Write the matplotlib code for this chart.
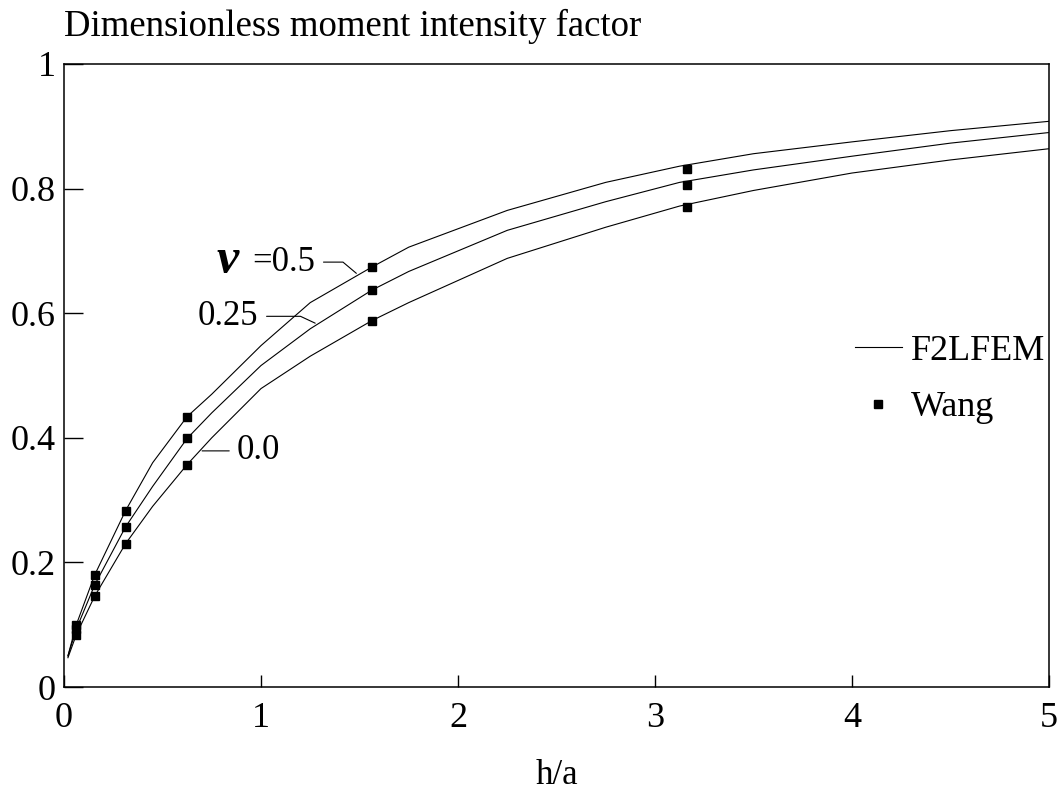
import matplotlib
matplotlib.use("Agg")
import matplotlib.pyplot as plt
from matplotlib.lines import Line2D

plt.rcParams['font.family'] = ['Liberation Serif', 'DejaVu Serif']

# F2LFEM curves
x_curve = [0.02, 0.0625, 0.156, 0.3125, 0.45, 0.625, 0.75, 1.0, 1.25, 1.5625,
           1.75, 2.25, 2.75, 3.125, 3.5, 4.0, 4.5, 5.0]
fem_05 = [0.05, 0.10, 0.18, 0.283, 0.36, 0.434, 0.47, 0.548, 0.617, 0.674,
          0.706, 0.765, 0.810, 0.836, 0.856, 0.875, 0.893, 0.908]
fem_025 = [0.05, 0.093, 0.164, 0.257, 0.322, 0.399, 0.44, 0.516, 0.575, 0.637,
           0.667, 0.733, 0.779, 0.810, 0.830, 0.852, 0.873, 0.890]
fem_00 = [0.047, 0.084, 0.146, 0.23, 0.29, 0.357, 0.40, 0.479, 0.531, 0.588,
          0.617, 0.688, 0.738, 0.772, 0.797, 0.825, 0.846, 0.864]

# Wang's results
x_wang = [0.0625, 0.156, 0.3125, 0.625, 1.5625, 3.16]
wang_05 = [0.100, 0.180, 0.283, 0.434, 0.674, 0.831]
wang_025 = [0.093, 0.164, 0.257, 0.399, 0.637, 0.805]
wang_00 = [0.084, 0.146, 0.230, 0.357, 0.588, 0.770]

fig = plt.figure(figsize=(10.6, 7.96), dpi=100)
ax = fig.add_axes([64 / 1060, 1 - 687 / 796, 985 / 1060, 623 / 796])

for ys in (fem_05, fem_025, fem_00):
    ax.plot(x_curve, ys, color='black', lw=0.8)
for ys in (wang_05, wang_025, wang_00):
    ax.plot(x_wang, ys, ls='none', marker='s', ms=5.5, color='black')

ax.set_xlim(0, 5)
ax.set_ylim(0, 1)
ax.set_xticks([0, 1, 2, 3, 4, 5])
ax.set_yticks([0, 0.2, 0.4, 0.6, 0.8, 1])
ax.set_yticklabels(['0', '0.2', '0.4', '0.6', '0.8', '1'])
ax.tick_params(axis='y', direction='in', length=13.5, width=1.0, labelsize=26, pad=6)
ax.tick_params(axis='x', direction='in', length=8.5, width=1.0, labelsize=26, pad=11)
for s in ax.spines.values():
    s.set_linewidth(1.1)

ax.set_xlabel('h/a', fontsize=25, labelpad=17)
fig.text(64 / 1060, 1 - 26 / 796, 'Dimensionless moment intensity factor',
         fontsize=26.5, ha='left', va='center')

# curve labels with leader lines
ax.annotate('=0.5', xy=(1.484, 0.664), xytext=(1.275, 0.682),
            fontsize=25, ha='right', va='center',
            arrowprops=dict(arrowstyle='-', lw=0.8, shrinkA=4, shrinkB=0,
                            connectionstyle='angle,angleA=0,angleB=140,rad=0'))
ax.text(0.885, 0.684, '\u03bd', fontsize=36, fontweight='bold', fontstyle='italic',
        ha='right', va='center')
ax.annotate('0.25', xy=(1.275, 0.584), xytext=(0.986, 0.595),
            fontsize=25, ha='right', va='center',
            arrowprops=dict(arrowstyle='-', lw=0.8, shrinkA=4, shrinkB=0,
                            connectionstyle='angle,angleA=0,angleB=155,rad=0'))
ax.annotate('0.0', xy=(0.701, 0.379), xytext=(0.874, 0.379),
            fontsize=25, ha='left', va='center',
            arrowprops=dict(arrowstyle='-', lw=0.8, shrinkA=3, shrinkB=0))

handles = [Line2D([], [], color='black', lw=0.8),
           Line2D([], [], ls='none', marker='s', ms=5.5, color='black')]
ax.legend(handles, ['F2LFEM', 'Wang'], loc='center left',
          bbox_to_anchor=(0.803, 0.494), frameon=False, fontsize=26,
          handlelength=1.3, handletextpad=0.25, borderpad=0, borderaxespad=0,
          labelspacing=0.65, numpoints=1)

fig.savefig('out.png', dpi=100)
